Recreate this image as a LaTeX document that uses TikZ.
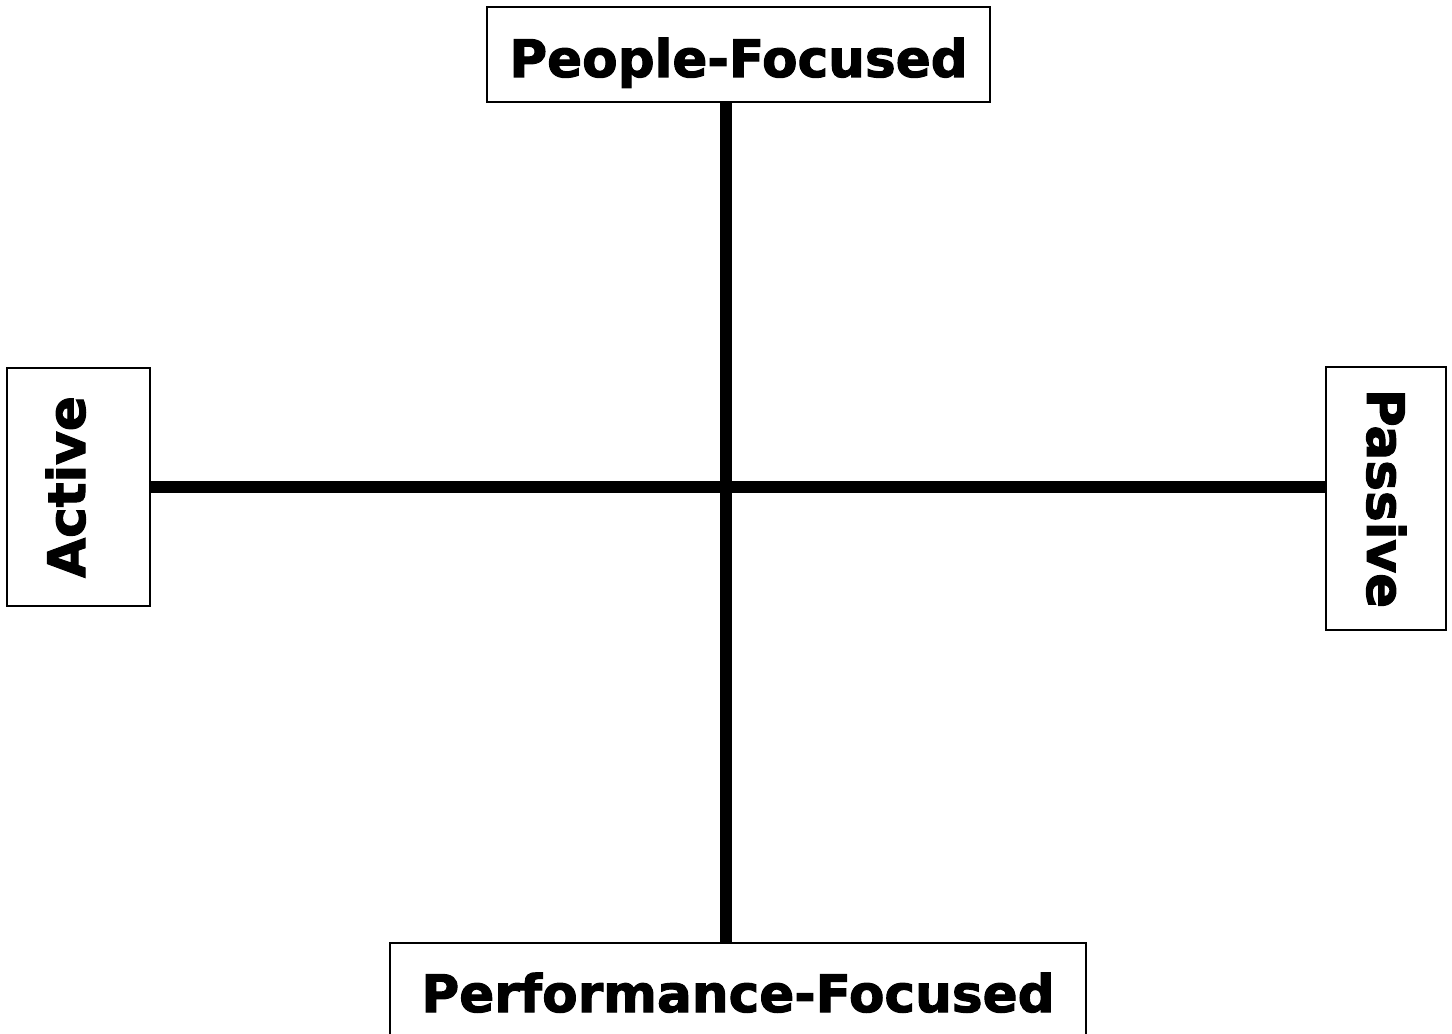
\documentclass[tikz,border=0pt]{standalone}
\usepackage{fontspec}
\setmainfont{DejaVu Sans}[BoldFeatures={FakeBold=2}]
\tikzset{
  axisbox/.style={draw=black,line width=0.55pt,fill=white,inner sep=0pt,
    font=\fontsize{14.7}{17}\selectfont\bfseries},
  axisline/.style={line width=3.4pt,black}
}
\newcommand{\axislabel}[2]{\raisebox{#1}[0pt][0pt]{#2}}
\begin{document}
\begin{tikzpicture}
        \useasboundingbox (0,0) rectangle (14.52,-10.34);

        % Centre of the cross
        \coordinate (c) at (7.26,-4.87);

        % Labels
        \node[axisbox,minimum width=5.03cm,minimum height=0.95cm] at (7.385,-0.545) (ppl) {\axislabel{-0.225cm}{People-Focused}};
        \node[axisbox,minimum width=6.96cm,minimum height=0.95cm] at (7.38,-9.905) (perf) {\axislabel{-0.215cm}{Performance-Focused}};
        \node[axisbox,rotate=90,minimum width=2.38cm,minimum height=1.43cm] at (0.785,-4.87) (act) {\axislabel{-0.065cm}{Active}};
        \node[axisbox,rotate=-90,minimum width=2.63cm,minimum height=1.20cm] at (13.86,-4.985) (pas) {\axislabel{-0.19cm}{Passive}};

        % Axes
        \draw[axisline] (ppl.south -| c) -- (perf.north -| c);
        \draw[axisline] (act.south |- c) -- (pas.south |- c);

\end{tikzpicture}
\end{document}
